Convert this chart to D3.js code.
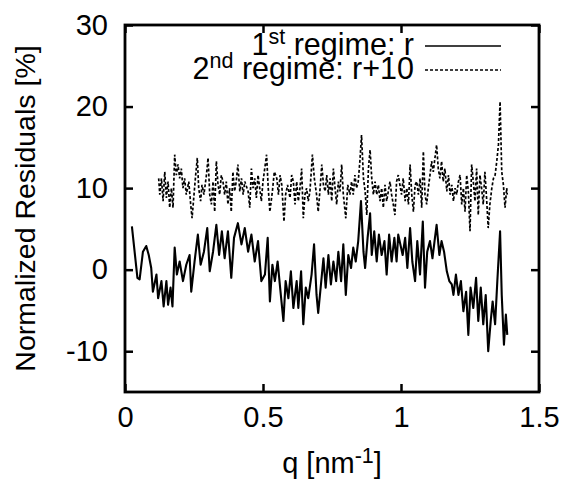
<!DOCTYPE html>
<html>
<head>
<meta charset="utf-8">
<script src="https://cdn.jsdelivr.net/npm/d3@7"></script>
<style>
  html, body { margin: 0; padding: 0; background: #fff; }
  svg text { font-family: "Liberation Sans", Arial, Helvetica, sans-serif; fill: #000; }
</style>
</head>
<body>
<svg id="chart" width="565" height="482"></svg>
<script>
// ---- Data ----
const xTicks = [0, 0.5, 1, 1.5];
const xTickLabels = ["0", "0.5", "1", "1.5"];
const yTicks = [-10, 0, 10, 20, 30];
const yTickLabels = ["-10", "0", "10", "20", "30"];

// 1st regime: r  (solid)
const q1 = [0.025,0.045,0.053,0.065,0.077,0.086,0.095,0.101,0.114,0.120,0.132,0.140,0.150,0.156,0.165,0.172,0.180,0.188,0.198,0.210,0.222,0.234,0.240,0.252,0.264,0.274,0.286,0.298,0.307,0.319,0.331,0.341,0.351,0.361,0.373,0.385,0.395,0.409,0.422,0.434,0.446,0.458,0.470,0.482,0.494,
  0.507,0.517,0.525,0.534,0.543,0.553,0.562,0.574,0.582,0.592,0.601,0.610,0.622,0.628,0.638,0.646,0.655,0.664,0.676,0.685,0.694,0.700,0.710,0.719,0.727,0.737,0.746,0.755,0.765,0.773,0.783,0.791,0.800,0.809,0.819,0.827,0.836,0.845,0.855,0.864,0.870,0.879,0.888,0.894,0.903,0.912,0.920,0.930,0.940,0.948,0.957,0.966,0.976,0.984,0.990,
  1.006,1.015,1.023,1.033,1.041,1.051,1.059,1.069,1.079,1.087,1.095,1.105,1.114,1.123,1.129,1.139,1.147,1.156,1.166,1.175,1.184,1.190,1.199,1.208,1.217,1.226,1.236,1.244,1.252,1.262,1.272,1.280,1.289,1.298,1.307,1.316,1.325,1.332,1.341,1.349,1.359,1.365,1.373,1.380,1.385];
const r1 = [5.3,-1.0,-1.2,2.2,2.9,1.8,0.2,-2.7,-0.6,-3.5,-1.4,-4.5,-1.4,-4.3,-2.2,-4.5,2.7,-0.6,1.0,-1.4,0.6,1.8,-2.7,1.0,4.3,0.6,2.2,5.1,-0.2,2.2,5.5,1.8,4.7,1.4,4.7,-1.0,3.9,5.7,3.1,5.1,2.2,4.3,1.0,3.5,-1.4,
  -0.6,3.9,-3.9,0.6,-1.4,1.0,-2.2,-6.3,-1.4,-3.5,-0.2,-4.7,-1.4,-4.7,-0.2,-6.7,-2.2,-3.5,-0.6,3.1,-3.1,-5.3,-1.8,1.4,-2.2,1.8,-1.8,1.0,-1.4,2.2,-1.4,3.1,-3.1,1.8,0.2,2.7,1.0,3.5,8.4,2.2,0.2,3.9,6.9,1.8,4.7,1.0,4.3,1.8,3.5,-0.6,4.3,1.0,3.9,1.0,4.3,
  1.8,3.9,0.2,5.1,1.0,-1.4,3.5,-0.6,5.9,-2.2,2.2,3.5,1.4,3.9,5.5,1.8,3.5,2.2,-0.2,-1.4,-1.8,-3.1,-0.6,-3.1,-1.4,-5.1,-2.7,-8.0,-2.2,-4.7,-1.0,-6.3,-2.2,-6.7,-3.1,-10.0,-6.3,-3.9,-6.7,-1.4,4.7,-3.1,-9.2,-5.5,-8.0];

// 2nd regime: r+10  (dashed)
const q2 = [0.122,0.126,0.132,0.138,0.144,0.150,0.156,0.162,0.168,0.174,0.180,0.186,0.192,0.198,0.204,0.210,0.216,0.222,0.231,0.238,0.243,0.250,0.256,0.262,0.267,0.274,0.279,0.286,0.295,0.301,0.307,0.313,0.319,0.325,0.331,0.337,0.343,0.349,0.355,0.361,0.367,0.373,0.379,0.385,0.391,0.397,0.403,0.409,0.416,0.422,0.428,0.434,0.446,0.452,0.458,0.464,0.470,0.476,0.482,0.488,0.494,0.500,
  0.513,0.519,0.525,0.534,0.541,0.550,0.556,0.562,0.568,0.576,0.582,0.589,0.598,0.604,0.610,0.616,0.622,0.628,0.634,0.640,0.646,0.652,0.658,0.664,0.670,0.679,0.686,0.694,0.700,0.707,0.713,0.719,0.725,0.731,0.737,0.743,0.749,0.755,0.761,0.767,0.773,0.779,0.785,0.791,0.800,0.807,0.815,0.821,0.827,0.833,0.839,0.845,0.851,0.857,0.864,0.870,0.876,0.882,0.888,0.894,0.900,0.906,0.912,0.918,0.924,0.930,0.936,0.942,0.948,0.954,0.960,0.966,0.972,0.978,0.984,0.990,
  1.002,1.008,1.015,1.021,1.027,1.033,1.039,1.045,1.051,1.057,1.063,1.069,1.075,1.081,1.087,1.093,1.099,1.105,1.111,1.117,1.123,1.129,1.135,1.141,1.147,1.153,1.159,1.166,1.172,1.178,1.184,1.190,1.196,1.202,1.208,1.214,1.220,1.226,1.232,1.238,1.244,1.250,1.256,1.262,1.268,1.274,1.280,1.286,1.292,1.298,1.304,1.310,1.316,1.322,1.329,1.335,1.341,1.347,1.353,1.359,1.365,1.371,1.377,1.383,1.385];
const r2 = [11.2,9.2,11.2,8.4,12.0,8.8,10.8,7.6,10.0,7.6,14.1,11.6,12.9,11.2,12.4,10.0,11.2,9.2,10.8,8.0,6.3,9.2,11.6,13.7,10.0,8.4,10.4,9.2,11.6,13.7,9.2,8.0,10.8,7.1,13.3,10.4,9.2,11.6,10.8,9.2,10.8,8.0,10.0,7.1,12.0,9.6,10.8,12.9,9.6,11.2,9.2,10.8,9.6,7.6,12.4,10.0,11.2,8.8,11.6,10.0,8.4,10.8,
  14.1,10.0,7.1,9.6,12.0,11.2,9.2,11.6,10.4,5.9,9.2,10.4,8.8,11.6,10.8,8.0,10.8,8.4,10.0,12.4,6.3,9.2,10.0,8.4,9.6,14.1,11.2,9.2,7.1,10.0,12.9,10.4,9.6,11.6,9.2,11.2,8.4,12.4,10.0,8.0,10.8,9.6,12.9,9.2,6.3,10.4,9.2,10.8,9.2,11.6,10.0,10.8,13.3,16.5,11.2,9.6,6.7,12.4,14.7,11.2,9.2,10.8,9.2,10.4,8.4,10.0,7.6,10.4,8.4,9.6,10.8,9.2,8.0,6.7,10.8,11.6,
  9.2,11.2,8.4,10.0,8.0,12.9,9.2,7.1,10.4,10.8,9.2,11.2,7.6,14.5,9.2,8.0,10.0,11.6,13.3,12.0,13.7,15.3,12.4,11.2,13.3,10.8,12.4,9.6,11.6,9.2,10.4,8.4,10.0,9.2,10.8,11.6,8.0,10.0,7.1,11.6,9.6,4.7,12.9,10.8,8.4,12.4,6.7,11.6,10.0,8.0,12.0,8.8,5.1,8.0,10.0,11.2,11.6,13.3,15.3,20.6,12.0,10.4,7.6,10.0,9.2];

const legendLabels = [
  { main: "1", sup: "st", rest: " regime: r", dash: null },
  { main: "2", sup: "nd", rest: " regime: r+10", dash: "3,2" }
];

// ---- Layout ----
const margin = { left: 125, top: 25, right: 539, bottom: 392 };
const svg = d3.select("#chart");

const x = d3.scaleLinear().domain([0, 1.5]).range([margin.left, margin.right]);
const y = d3.scaleLinear().domain([-15, 30]).range([margin.bottom, margin.top]);

const fontSize = 29;
const legendSize = 30.5;
const supSize = 21.5;

// Axes with inward ticks
const gx = svg.append("g").attr("transform", `translate(0,${margin.bottom})`)
  .call(d3.axisBottom(x).tickValues(xTicks).tickFormat((d, i) => xTickLabels[i]).tickSize(-8).tickPadding(14));
const gxTop = svg.append("g").attr("transform", `translate(0,${margin.top})`)
  .call(d3.axisTop(x).tickValues(xTicks).tickFormat("").tickSize(-8));
const gy = svg.append("g").attr("transform", `translate(${margin.left},0)`)
  .call(d3.axisLeft(y).tickValues(yTicks).tickFormat((d, i) => yTickLabels[i]).tickSize(-8).tickPadding(17));
const gyR = svg.append("g").attr("transform", `translate(${margin.right},0)`)
  .call(d3.axisRight(y).tickValues(yTicks).tickFormat("").tickSize(-8));

[gx, gxTop, gy, gyR].forEach(g => {
  g.select(".domain").remove();
  g.selectAll(".tick line").attr("stroke", "#000").attr("stroke-width", 2.5);
  g.selectAll("text").attr("font-size", fontSize).attr("fill", "#000")
    .attr("font-family", "Liberation Sans, Arial, sans-serif");
});

// Lines
const line = d3.line().x(d => x(d[0])).y(d => y(d[1]));
const data1 = q1.map((q, i) => [q, r1[i]]);
const data2 = q2.map((q, i) => [q, r2[i]]);

svg.append("path").datum(data2).attr("d", line)
  .attr("fill", "none").attr("stroke", "#000").attr("stroke-width", 1.7)
  .attr("stroke-dasharray", "3,2");
svg.append("path").datum(data1).attr("d", line)
  .attr("fill", "none").attr("stroke", "#000").attr("stroke-width", 2.1)
  .attr("stroke-linejoin", "round");

// Frame
svg.append("rect")
  .attr("x", margin.left).attr("y", margin.top)
  .attr("width", margin.right - margin.left).attr("height", margin.bottom - margin.top)
  .attr("fill", "none").attr("stroke", "#000").attr("stroke-width", 2.8);

// Legend
const legend = svg.append("g");
legendLabels.forEach((L, i) => {
  const by = 55 + i * 24;
  const t = legend.append("text").attr("x", 414).attr("y", by)
    .attr("text-anchor", "end").attr("font-size", legendSize);
  t.append("tspan").text(L.main);
  t.append("tspan").attr("dy", -11).attr("font-size", supSize).text(L.sup);
  t.append("tspan").attr("dy", 11).text(L.rest);
  const ln = legend.append("line")
    .attr("x1", 425).attr("x2", 501).attr("y1", by - 9).attr("y2", by - 9)
    .attr("stroke", "#000").attr("stroke-width", 1.6);
  if (L.dash) ln.attr("stroke-dasharray", L.dash);
});

// Axis titles
svg.append("text")
  .attr("transform", `translate(35,${(margin.top + margin.bottom) / 2}) rotate(-90)`)
  .attr("text-anchor", "middle").attr("font-size", 28.5)
  .text("Normalized Residuals [%]");

const xt = svg.append("text")
  .attr("x", (margin.left + margin.right) / 2).attr("y", 473)
  .attr("text-anchor", "middle").attr("font-size", fontSize);
xt.append("tspan").text("q [nm");
xt.append("tspan").attr("dy", -10).attr("font-size", supSize).text("-1");
xt.append("tspan").attr("dy", 10).text("]");
</script>
</body>
</html>
